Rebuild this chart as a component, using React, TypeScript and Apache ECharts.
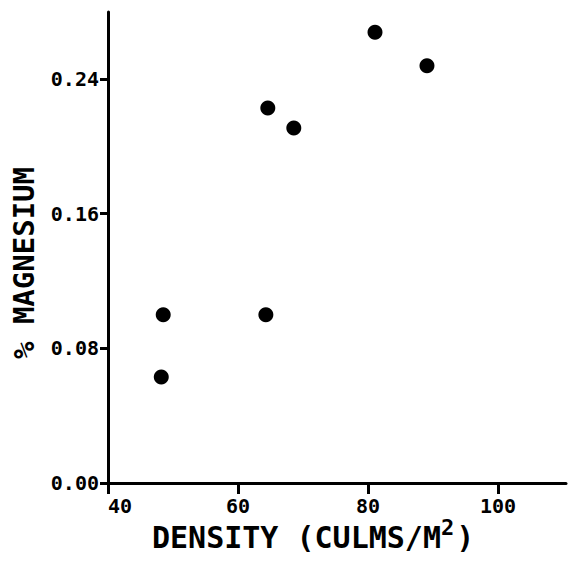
import React, { useEffect, useRef } from "react";
import * as echarts from "echarts";

const densityValues = [48.2, 48.5, 64.3, 64.6, 68.6, 81.1, 89.1];
const magnesiumValues = [0.063, 0.1, 0.1, 0.223, 0.211, 0.268, 0.248];
const xTickValues = [40, 60, 80, 100];
const yTickValues = [0, 0.08, 0.16, 0.24];
const xTitle = "DENSITY (CULMS/M";
const xTitleSup = "2";
const yTitle = "% MAGNESIUM";

const FONT = "DejaVu Sans Mono";

const labelStyle = {
  color: "#000",
  fontSize: 20,
  fontWeight: "bold",
  fontFamily: FONT,
};

export default function App() {
  const ref = useRef<HTMLDivElement>(null);
  useEffect(() => {
    if (!ref.current) return;
    const chart = echarts.init(ref.current, null, { renderer: "svg" });
    const data = densityValues.map((x, i) => [x, magnesiumValues[i]]);
    const xMinT = xTickValues[0];
    const xMaxT = xTickValues[xTickValues.length - 1];
    const yMinT = yTickValues[0];
    const yMaxT = yTickValues[yTickValues.length - 1];
    chart.setOption({
      animation: false,
      backgroundColor: "#ffffff",
      grid: [
        { left: 108, right: 5, top: 12, bottom: 78 },
        { left: 108, right: 73, top: 79, bottom: 78 },
      ],
      xAxis: [
        {
          gridIndex: 0,
          type: "value",
          min: 40,
          max: 110.5,
          splitLine: { show: false },
          axisLine: { show: true, lineStyle: { color: "#000", width: 3 } },
          axisTick: { show: false },
          axisLabel: { show: false },
        },
        {
          gridIndex: 1,
          type: "value",
          min: xMinT,
          max: xMaxT,
          interval: 20,
          splitLine: { show: false },
          axisLine: { show: true, lineStyle: { color: "rgba(0,0,0,0)", width: 0 } },
          axisTick: { show: true, length: 11, lineStyle: { color: "#000", width: 3 } },
          axisLabel: {
            ...labelStyle,
            alignMinLabel: "left",
            margin: 13,
            formatter: (v: number) => String(v),
          },
        },
      ],
      yAxis: [
        {
          gridIndex: 0,
          type: "value",
          min: 0,
          max: 0.28,
          splitLine: { show: false },
          axisLine: { show: true, lineStyle: { color: "#000", width: 3 } },
          axisTick: { show: false },
          axisLabel: { show: false },
        },
        {
          gridIndex: 1,
          type: "value",
          min: yMinT,
          max: yMaxT,
          interval: 0.08,
          splitLine: { show: false },
          axisLine: { show: true, lineStyle: { color: "rgba(0,0,0,0)", width: 0 } },
          axisTick: { show: true, length: 8, lineStyle: { color: "#000", width: 3 } },
          axisLabel: {
            ...labelStyle,
            margin: 9,
            formatter: (v: number) => v.toFixed(2),
          },
        },
      ],
      graphic: [
        {
          type: "text",
          left: 152,
          top: 516,
          style: {
            text: `{a|${xTitle}}{s|${xTitleSup}}{a|)}`,
            rich: {
              a: { fontSize: 30, fontFamily: FONT, fontWeight: "bold", fill: "#000", verticalAlign: "bottom" },
              s: { fontSize: 22, fontFamily: FONT, fontWeight: "bold", fill: "#000", verticalAlign: "top", padding: [0, 2, 14, 0] },
            },
          },
        },
        {
          type: "text",
          x: 24,
          y: 263,
          rotation: Math.PI / 2,
          style: {
            text: yTitle,
            fontSize: 29,
            fontFamily: FONT,
            fontWeight: "bold",
            fill: "#000",
            align: "center",
            verticalAlign: "middle",
          },
        },
      ],
      series: [
        {
          type: "scatter",
          xAxisIndex: 0,
          yAxisIndex: 0,
          data,
          symbol: "circle",
          symbolSize: 15,
          itemStyle: { color: "#000", opacity: 1 },
        },
      ],
    });
    return () => chart.dispose();
  }, []);
  return (
    <div
      ref={ref}
      style={{ position: "fixed", left: 0, top: 0, width: 571, height: 561, background: "#fff" }}
    />
  );
}
